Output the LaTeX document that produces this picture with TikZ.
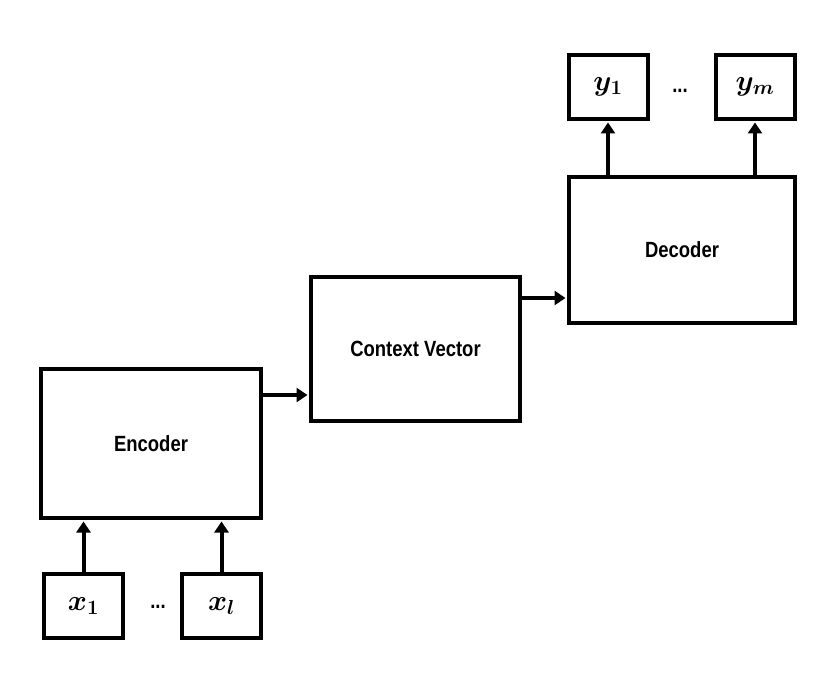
\RequirePackage{fix-cm}
\documentclass[tikz,border=0pt]{standalone}
\usepackage{amsmath}
\usepackage{fontspec}
\setsansfont{Liberation Sans}[FakeStretch = 0.84]
\usepackage{tikz}
\usetikzlibrary{arrows.meta}
\usetikzlibrary{positioning}
\tikzset{blk/.style = {draw, rectangle, line width = 4pt, inner sep = 0, font = \sffamily\bfseries\fontsize{22}{24}\selectfont}}
\tikzset{var/.style = {blk, minimum width = 79pt, minimum height = 64pt, font = \fontsize{29}{32}\selectfont\boldmath}}
\tikzset{arr/.style = {line width = 4pt, -{Triangle[length = 11pt, width = 14pt]}, shorten > = 1.5pt}}
\tikzset{gap/.style = {anchor = base, inner sep = 0, font = \sffamily\bfseries\fontsize{22}{24}\selectfont}}

\begin{document}
\begin{tikzpicture}[x = 1pt, y = -1pt]
    \useasboundingbox (0, 0) rectangle (830, 692);

    \node [blk, minimum width = 220pt, minimum height = 149pt] (enc) at (151, 443.5) {Encoder};
    \node [blk, minimum width = 209pt, minimum height = 144pt] (ctx) at (415.5, 349) {Context Vector};
    \node [blk, minimum width = 226pt, minimum height = 146pt] (dec) at (682, 250) {Decoder};

    \node [var] (x1) at (83.5, 606) {$x_1$};
    \node [var] (xl) at (221.5, 606) {$x_l$};
    \node [var] (y1) at (608, 87) {$y_1$};
    \node [var] (ym) at (755, 87) {$y_m$};
    \node [gap] (xdots) at (158, 608) {...};
    \node [gap] (ydots) at (680, 93) {...};

    \foreach \v in {x1, xl} {
      \draw [arr] (\v) -- (\v |- enc.south);
    }
    \foreach \v in {y1, ym} {
      \draw [arr] (\v |- dec.north) -- (\v);
    }
    \coordinate (encout) at ([yshift = 48.5pt] enc.east);
    \coordinate (ctxout) at ([yshift = 51pt] ctx.east);
    \draw [arr] (encout) -- (encout -| ctx.west);
    \draw [arr] (ctxout) -- (ctxout -| dec.west);
  \end{tikzpicture}
\end{document}
